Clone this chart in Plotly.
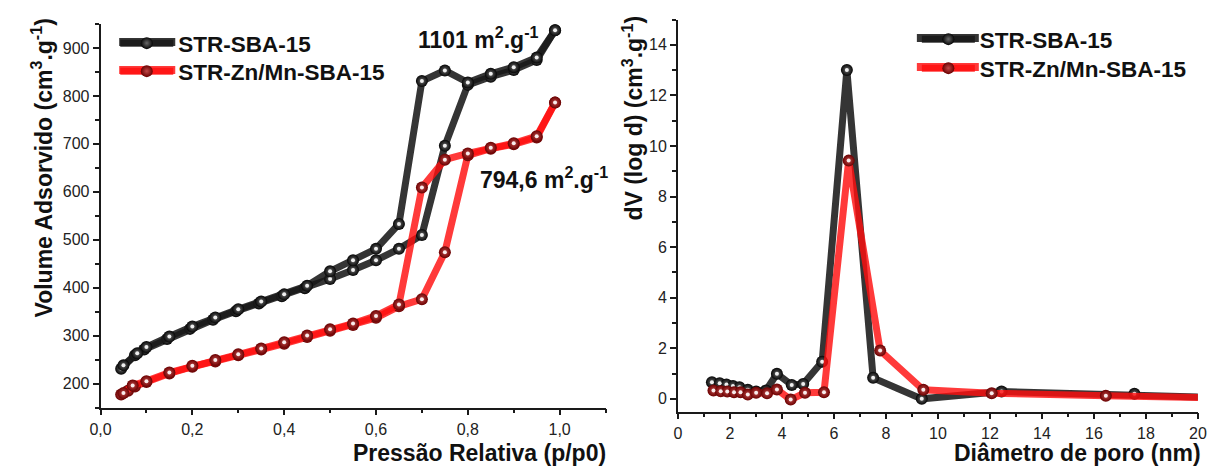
import plotly.graph_objects as go

# ---- N2 isotherms (left panel) ----
p_ads_sba = [0.045, 0.075, 0.095, 0.145, 0.195, 0.245, 0.295, 0.345, 0.395, 0.445,
             0.50, 0.55, 0.60, 0.65, 0.70, 0.75, 0.80, 0.85, 0.90, 0.95, 0.99]
v_ads_sba = [231, 259, 271, 293, 314, 333, 351, 367, 382, 399,
             418, 437, 457, 481, 510, 696, 823, 840, 854, 875, 937]

p_des_sba = [0.99, 0.95, 0.90, 0.85, 0.80, 0.75, 0.70, 0.65, 0.60, 0.55, 0.50,
             0.45, 0.40, 0.35, 0.30, 0.25, 0.20, 0.15, 0.10, 0.08, 0.05]
v_des_sba = [937, 880, 860, 846, 828, 853, 831, 533, 481, 457, 434,
             404, 386, 371, 355, 338, 319, 298, 276, 263, 238]

p_ads_zn = [0.045, 0.06, 0.075, 0.10, 0.15, 0.20, 0.25, 0.30, 0.35, 0.40, 0.45,
            0.50, 0.55, 0.60, 0.65, 0.70, 0.75, 0.80, 0.85, 0.90, 0.95, 0.99]
v_ads_zn = [177, 185, 194, 203, 221, 235, 246, 259, 271, 283, 297,
            310, 322, 337, 361, 376, 474, 676, 690, 699, 713, 786]

p_des_zn = [0.99, 0.95, 0.90, 0.85, 0.80, 0.75, 0.70, 0.65, 0.60, 0.55, 0.50,
            0.45, 0.40, 0.35, 0.30, 0.25, 0.20, 0.15, 0.10, 0.07, 0.05]
v_des_zn = [786, 716, 701, 692, 680, 667, 609, 365, 341, 325, 313,
            300, 286, 273, 261, 249, 237, 223, 205, 196, 180]

# ---- BJH pore size distribution (right panel) ----
d_sba = [1.31, 1.61, 1.87, 2.12, 2.37, 2.69, 3.01, 3.39, 3.81, 4.38, 4.82,
         5.55, 6.50, 7.51, 9.38, 12.45, 17.56, 22.5]
dv_sba = [0.66, 0.62, 0.57, 0.51, 0.46, 0.36, 0.29, 0.33, 0.99, 0.55, 0.59,
          1.47, 13.0, 0.83, 0.0, 0.29, 0.20, 0.0]

d_zn = [1.37, 1.65, 1.90, 2.16, 2.41, 2.69, 3.01, 3.43, 3.81, 4.34, 4.89,
        5.62, 6.57, 7.78, 9.44, 12.07, 16.46, 22.5]
dv_zn = [0.33, 0.30, 0.29, 0.26, 0.26, 0.17, 0.24, 0.22, 0.37, -0.03, 0.24,
         0.26, 9.42, 1.91, 0.36, 0.22, 0.12, 0.0]

names = ["STR-SBA-15", "STR-Zn/Mn-SBA-15"]
area_labels = ["1101 m<sup>2</sup>.g<sup>-1</sup>", "794,6 m<sup>2</sup>.g<sup>-1</sup>"]

W, H = 1217, 466
FONT = "Liberation Sans, Arial, sans-serif"

style = {
    "sba": dict(line="rgba(25,25,25,0.88)", ball="#050505", glow="#6a6a6a"),
    "zn": dict(line="rgba(255,15,15,0.82)", ball="#6a0000", glow="#c04848"),
}

fig = go.Figure()


def add_series(x, y, key, name, xa, ya, legend, show):
    s = style[key]
    fig.add_trace(go.Scatter(
        x=x, y=y, mode="lines+markers", name=name,
        xaxis=xa, yaxis=ya, legend=legend, showlegend=show, legendgroup=key + legend,
        line=dict(color=s["line"], width=7),
        marker=dict(size=12, color=s["ball"], line=dict(width=0),
                    gradient=dict(type="radial", color=s["glow"])),
    ))
    # specular highlight on each ball
    fig.add_trace(go.Scatter(
        x=x, y=y, mode="markers", xaxis=xa, yaxis=ya, showlegend=False,
        hoverinfo="skip", legendgroup=key + legend,
        marker=dict(size=4, color="rgba(255,255,255,0.9)", line=dict(width=0)),
    ))


add_series(p_ads_sba, v_ads_sba, "sba", names[0], "x", "y", "legend", True)
add_series(p_des_sba, v_des_sba, "sba", names[0], "x", "y", "legend", False)
add_series(p_ads_zn, v_ads_zn, "zn", names[1], "x", "y", "legend2", True)
add_series(p_des_zn, v_des_zn, "zn", names[1], "x", "y", "legend2", False)

add_series(d_sba, dv_sba, "sba", names[0], "x2", "y2", "legend3", True)
add_series(d_zn, dv_zn, "zn", names[1], "x2", "y2", "legend4", True)


def px_x(px):
    return px / W


def px_y(py):
    return 1 - py / H


axis_common = dict(
    showline=True, linewidth=1.6, linecolor="#1a1a1a", mirror=False,
    showgrid=False, zeroline=False, ticks="outside", ticklen=6, tickwidth=1.6,
    tickcolor="#1a1a1a", tickfont=dict(family=FONT, size=16, color="#222"),
)


def minor(step):
    return dict(dtick=step, ticks="outside", ticklen=4, tickwidth=1.6, tickcolor="#1a1a1a")


legend_font = dict(family=FONT, size=22.5, color="#111", weight="bold")


def legend_at(px, py):
    return dict(x=px_x(px), y=px_y(py), xanchor="left", yanchor="top",
                bgcolor="rgba(0,0,0,0)", borderwidth=0, itemwidth=53,
                font=legend_font, tracegroupgap=0)


fig.update_layout(
    width=W, height=H, margin=dict(l=0, r=0, t=0, b=0),
    paper_bgcolor="white", plot_bgcolor="white", separators=",.",
    xaxis=dict(domain=[px_x(91), px_x(604.5)], range=[0, 1.1], anchor="y",
               tick0=0, dtick=0.2, tickformat=".1f", minor=minor(0.1), **axis_common),
    yaxis=dict(domain=[px_y(407.5), px_y(24)], range=[150, 950], anchor="x",
               tick0=0, dtick=100, minor=minor(50), **axis_common),
    xaxis2=dict(domain=[px_x(678), px_x(1206.7)], range=[0, 20], anchor="y2",
                tick0=0, dtick=2, minor=minor(1), **axis_common),
    yaxis2=dict(domain=[px_y(411.5), px_y(19.5)], range=[-0.5, 15], anchor="x2",
                tick0=0, dtick=2, minor=minor(1), **axis_common),
    legend=legend_at(106, 22),
    legend2=legend_at(106, 50),
    legend3=legend_at(921, 18),
    legend4=legend_at(921, 47),
)

# longer line samples behind the legend symbols
for key, (x0, x1, yc) in (("sba", (110, 167, 42)), ("zn", (110, 167, 70)),
                          ("sba", (921, 984, 38)), ("zn", (921, 984, 67))):
    fig.add_shape(type="line", xref="paper", yref="paper",
                  x0=px_x(x0), x1=px_x(x1), y0=px_y(yc), y1=px_y(yc),
                  line=dict(color=style[key]["line"], width=8), layer="below")

title_font = dict(family=FONT, size=23, color="#111", weight="bold")
label_font = dict(family=FONT, size=23, color="#111", weight="bold")

annotations = [
    dict(text="Volume Adsorvido (cm<sup>3</sup>.g<sup>-1</sup>)", x=px_x(32), y=px_y(168),
         textangle=-90, font=title_font),
    dict(text="Pressão Relativa (p/p0)", x=px_x(476), y=px_y(453), font=title_font),
    dict(text="dV (log d) (cm<sup>3</sup>.g<sup>-1</sup>)", x=px_x(632), y=px_y(118),
         textangle=-90, font=title_font),
    dict(text="Diâmetro de poro (nm)", x=px_x(1084), y=px_y(453), font=title_font),
    dict(text=area_labels[0], x=px_x(412), y=px_y(38), xanchor="left", font=label_font),
    dict(text=area_labels[1], x=px_x(475), y=px_y(178), xanchor="left", font=label_font),
]
for a in annotations:
    a.setdefault("xanchor", "center")
    fig.add_annotation(xref="paper", yref="paper", showarrow=False, yanchor="middle", **a)

fig.write_html("out.html")
